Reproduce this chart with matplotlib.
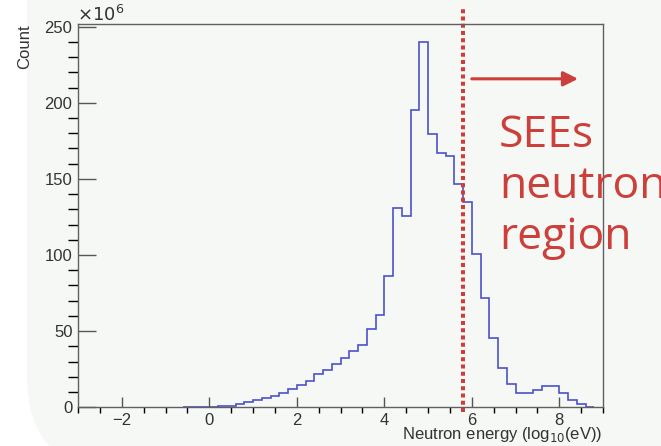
import numpy as np
import matplotlib
matplotlib.use('Agg')
import matplotlib.pyplot as plt
from matplotlib.patches import FancyBboxPatch
from matplotlib.transforms import IdentityTransform
from matplotlib.ticker import MultipleLocator

# histogram of log10(E/eV), bins of 0.2 starting at -0.6 (counts in units of 1e6)
bin_start = -0.6
bin_width = 0.2
counts = [0.2, 0.2, 0.3, 0.4, 0.6, 1.1, 2.0, 3.2, 4.6, 6.2,
          7.5, 9.6, 12.3, 14.9, 17.3, 21.9, 24.3, 28.3, 32.5, 37.1,
          41.0, 51.3, 60.7, 86.4, 130.7, 125.7, 195.4, 239.7, 179.6, 166.9,
          165.2, 146.7, 135.1, 100.5, 71.9, 45.2, 26.1, 15.6, 9.7, 9.7,
          11.6, 13.8, 13.8, 9.7, 5.1, 2.0, 0.5]
cut_energy = 5.8
region_label = ['SEEs', 'neutron', 'region']

edges = bin_start + bin_width * np.arange(len(counts) + 1)

plt.rcParams['font.family'] = ['Liberation Sans', 'DejaVu Sans']

fig = plt.figure(figsize=(6.61, 4.46), dpi=100)
fig.patch.set_facecolor('white')

# light slide panel behind the plot
panel = FancyBboxPatch((27, -25), 800, 600, boxstyle='round,pad=0,rounding_size=95',
                       transform=IdentityTransform(), facecolor='#f6f8f5',
                       edgecolor='none', zorder=-10)
fig.patches.append(panel)

ax = fig.add_axes([78 / 661, 1 - 407.3 / 446, 525 / 661, 383.3 / 446])
ax.set_facecolor('none')
ax.set_zorder(1)

ax.stairs(counts, edges, color='#4d52c8', linewidth=1.2)

ax.set_xlim(-3, 9)
ax.set_ylim(0, 251.7)

for s in ax.spines.values():
    s.set_color('#606060')
    s.set_linewidth(1.0)

ax.xaxis.set_major_locator(MultipleLocator(2))
ax.xaxis.set_minor_locator(MultipleLocator(0.5))
ax.yaxis.set_major_locator(MultipleLocator(50))
ax.yaxis.set_minor_locator(MultipleLocator(10))
ax.tick_params(direction='in', colors='#555555', labelcolor='#333333', labelsize=12,
               top=False, right=False)
ax.tick_params(axis='y', which='major', length=13, width=1, pad=4)
ax.tick_params(axis='y', which='minor', length=7, width=1)
ax.tick_params(axis='x', which='major', length=7, width=1, pad=4)
ax.tick_params(axis='x', which='minor', length=4, width=1)

fig.text(77 / 661, 1 - 25 / 446, r'$\times10^{6}$', ha='left', va='bottom',
         fontsize=13, color='#333333')
fig.text(25 / 661, 1 - 24 / 446, 'Count', rotation=90, ha='center', va='top',
         fontsize=12, color='#333333')
fig.text(602 / 661, 1 - 425 / 446, r'Neutron energy (log$_{10}$(eV))', ha='right',
         va='top', fontsize=12, color='#333333')

red = '#cc3f3a'
ax.axvline(cut_energy, ymin=-0.012, ymax=1.044, color='#d03c38', linewidth=2.9,
           linestyle=(0, (1, 0.8)), dash_capstyle='butt', clip_on=False)

ax.annotate('', xy=(8.43, 215.7), xytext=(6.0, 215.7),
            arrowprops=dict(arrowstyle='-|>', color=red, lw=2.2,
                            mutation_scale=22, shrinkA=0, shrinkB=0),
            annotation_clip=False)

for line, base in zip(region_label, [147, 198, 249]):
    fig.text(499 / 661, 1 - base / 446, line, ha='left', va='baseline',
             fontsize=32, color=red, family='Open Sans')

fig.savefig('out.png', dpi=100)
